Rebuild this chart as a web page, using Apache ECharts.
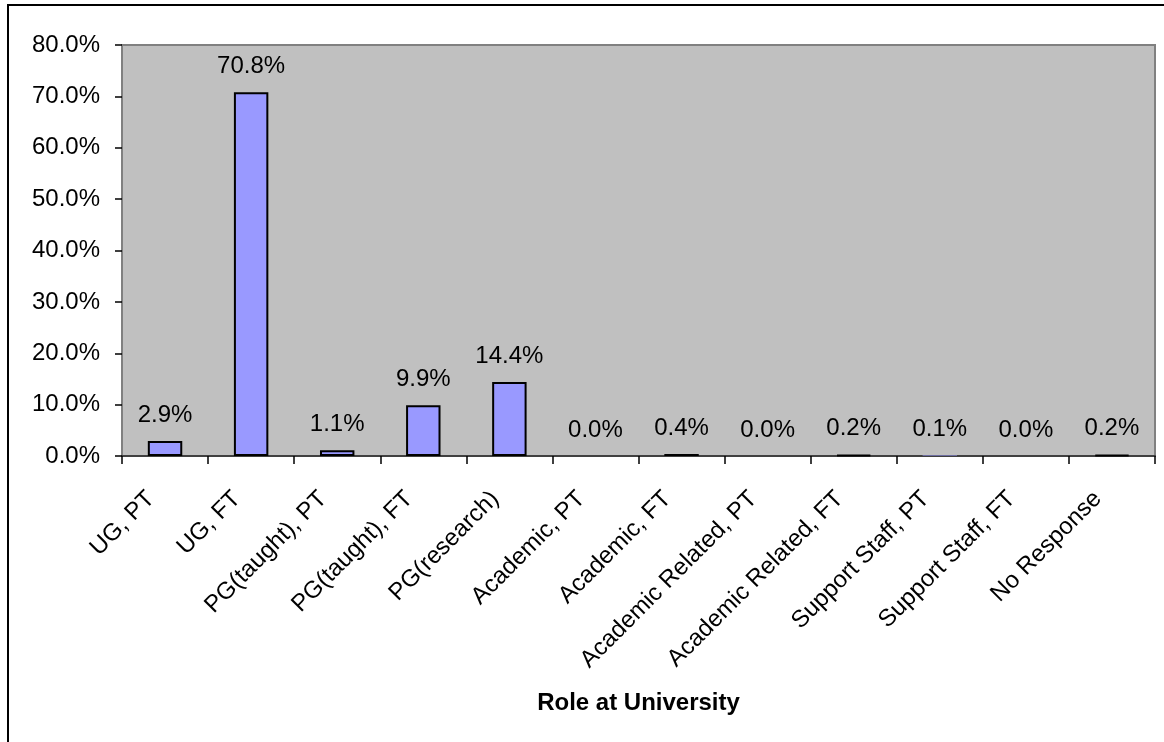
<!DOCTYPE html>
<html>
<head>
<meta charset="utf-8">
<script src="https://cdn.jsdelivr.net/npm/echarts@6/dist/echarts.min.js"></script>
<style>
html,body{margin:0;padding:0;background:#fff;overflow:hidden;}
#frame{position:absolute;left:7px;top:4px;width:1200px;height:800px;border:2px solid #000;box-sizing:border-box;}
#chart{position:absolute;left:0;top:0;width:1164px;height:742px;}
</style>
</head>
<body>
<div id="frame"></div>
<div id="chart"></div>
<script>
var categories = ["UG, PT","UG, FT","PG(taught), PT","PG(taught), FT","PG(research)","Academic, PT","Academic, FT","Academic Related, PT","Academic Related, FT","Support Staff, PT","Support Staff, FT","No Response"];
var values = [2.9, 70.8, 1.1, 9.9, 14.4, 0.0, 0.4, 0.0, 0.2, 0.1, 0.0, 0.2];
var axisTitle = "Role at University";

var font = "'Liberation Sans', Arial, sans-serif";
var barData = values.map(function(v){
  return v < 0.15 ? {value:v, itemStyle:{borderWidth:0}} : v;
});
var chart = echarts.init(document.getElementById('chart'), null, {renderer:'canvas'});
chart.setOption({
  animation:false,
  backgroundColor:'transparent',
  grid:{left:122,right:9,top:45,bottom:286,show:true,backgroundColor:'#C0C0C0',borderColor:'#808080',borderWidth:2},
  xAxis:{
    type:'category',data:categories,
    name:axisTitle,nameLocation:'middle',nameGap:235,
    nameTextStyle:{fontFamily:font,fontSize:24,fontWeight:'bold',color:'#000'},
    axisLine:{show:true,lineStyle:{color:'#404040',width:2}},
    axisTick:{show:true,length:8,lineStyle:{color:'#000',width:1.5}},
    axisLabel:{rotate:45,margin:25,padding:[0,20,0,0],interval:0,fontFamily:font,fontSize:24,color:'#000'}
  },
  yAxis:{
    type:'value',min:0,max:80,interval:10,
    axisLine:{show:true,lineStyle:{color:'#808080',width:2}},
    axisTick:{show:true,length:7,lineStyle:{color:'#000',width:1.5}},
    splitLine:{show:false},
    axisLabel:{margin:22,fontFamily:font,fontSize:24,color:'#000',formatter:function(v){return v.toFixed(1)+'%';}}
  },
  series:[{
    type:'bar',data:barData,barWidth:'40%',
    itemStyle:{color:'#9999FF',borderColor:'#000',borderWidth:2},
    label:{show:true,position:'top',distance:14,fontFamily:font,fontSize:24,color:'#000',formatter:function(p){return p.value.toFixed(1)+'%';}}
  }]
});
</script>
</body>
</html>
